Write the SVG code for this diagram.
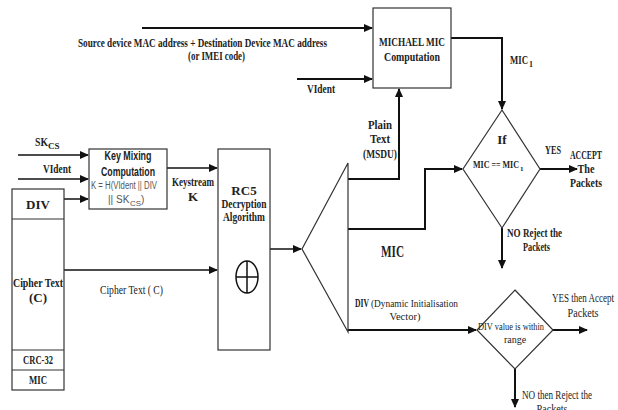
<svg xmlns="http://www.w3.org/2000/svg" width="618" height="410" viewBox="0 0 618 410">
<style>
.t{font-family:"Liberation Serif","DejaVu Serif",serif;font-weight:bold;font-size:13px;fill:#222}
.n{font-weight:normal}
.sub{font-size:8px}
.s{font-family:"Liberation Sans","DejaVu Sans",sans-serif;font-size:10px;fill:#555}
.sb{font-family:"Liberation Sans","DejaVu Sans",sans-serif;font-weight:bold;font-size:12px;fill:#222}
.box{fill:#fff;stroke:#333;stroke-width:1.2}
.c{fill:none;stroke:#111;stroke-width:2}
.cl{fill:none;stroke:#111;stroke-width:1.5}
</style>
<defs>
<marker id="ah" markerWidth="9" markerHeight="8" refX="8" refY="4" orient="auto" markerUnits="userSpaceOnUse"><path d="M0,0 L9,4 L0,8 z" fill="#111"/></marker>
</defs>
<rect width="618" height="410" fill="#fff"/>

<g id="connectors">
<path class="c" d="M142,28 H372" marker-end="url(#ah)"/>
<path class="c" d="M297,79 H372" marker-end="url(#ah)"/>
<path class="c" d="M451,38 H502 V109" marker-end="url(#ah)"/>
<path class="c" d="M348,179 H399 V89" marker-end="url(#ah)"/>
<path class="c" d="M348,229 H425 V169 H462" marker-end="url(#ah)"/>
<path class="c" d="M540,169 H577" marker-end="url(#ah)"/>
<path class="c" d="M502,228 V268" marker-end="url(#ah)"/>
<path class="c" d="M348,330 H476" marker-end="url(#ah)"/>
<path class="c" d="M553,330 H587" marker-end="url(#ah)"/>
<path class="c" d="M515,369 V407" marker-end="url(#ah)"/>
<path class="cl" d="M18,155 H88" marker-end="url(#ah)"/>
<path class="cl" d="M18,179 H88" marker-end="url(#ah)"/>
<path class="cl" d="M64,199 H88" marker-end="url(#ah)"/>
<path class="cl" d="M167,168 H217" marker-end="url(#ah)"/>
<path class="cl" d="M64,270 H217" marker-end="url(#ah)"/>
<path class="cl" d="M270,249 H301" marker-end="url(#ah)"/>
</g>

<g id="labels">
<text class="t" x="78" y="47" textLength="249" lengthAdjust="spacingAndGlyphs">Source device MAC address + Destination Device MAC address</text>
<text class="t" x="188" y="60" textLength="57" lengthAdjust="spacingAndGlyphs">(or IMEI code)</text>
<text class="t" x="307" y="93" textLength="28" lengthAdjust="spacingAndGlyphs">VIdent</text>
<text class="t" x="510" y="64" textLength="18" lengthAdjust="spacingAndGlyphs">MIC</text><text class="t sub" x="529" y="67">1</text>
<text class="t" x="380" y="129" text-anchor="middle" textLength="24" lengthAdjust="spacingAndGlyphs">Plain</text>
<text class="t" x="380" y="143" text-anchor="middle" textLength="20" lengthAdjust="spacingAndGlyphs">Text</text>
<text class="t" x="380" y="158" text-anchor="middle" textLength="34" lengthAdjust="spacingAndGlyphs">(MSDU)</text>
<text class="t" x="545" y="154" textLength="16" lengthAdjust="spacingAndGlyphs">YES</text>
<text class="t" x="586" y="159" text-anchor="middle" textLength="32" lengthAdjust="spacingAndGlyphs">ACCEPT</text>
<text class="t" x="586" y="173" text-anchor="middle" textLength="17" lengthAdjust="spacingAndGlyphs">The</text>
<text class="t" x="586" y="187" text-anchor="middle" textLength="32" lengthAdjust="spacingAndGlyphs">Packets</text>
<text class="t" x="507" y="237" textLength="55" lengthAdjust="spacingAndGlyphs">NO Reject the</text>
<text class="t" x="523" y="251" textLength="27" lengthAdjust="spacingAndGlyphs">Packets</text>
<text class="t" x="381" y="257" style="font-size:16px" textLength="23" lengthAdjust="spacingAndGlyphs">MIC</text>
<text class="t" x="355" y="307" textLength="14" lengthAdjust="spacingAndGlyphs">DIV</text>
<text class="t n" x="371" y="307" style="font-size:11px" textLength="87" lengthAdjust="spacingAndGlyphs">(Dynamic Initialisation</text>
<text class="t n" x="405" y="320" style="font-size:11px" text-anchor="middle" textLength="31" lengthAdjust="spacingAndGlyphs">Vector)</text>
<text class="t n" x="552" y="302" textLength="62" lengthAdjust="spacingAndGlyphs">YES then Accept</text>
<text class="t n" x="583" y="317" text-anchor="middle" textLength="31" lengthAdjust="spacingAndGlyphs">Packets</text>
<text class="t n" x="522" y="399" textLength="70" lengthAdjust="spacingAndGlyphs">NO then Reject the</text>
<text class="t n" x="552" y="413" text-anchor="middle" textLength="31" lengthAdjust="spacingAndGlyphs">Packets</text>
<text class="t" x="35" y="146" textLength="13" lengthAdjust="spacingAndGlyphs">SK</text><text class="t" x="48" y="149" style="font-size:9px">CS</text>
<text class="t" x="43" y="173" textLength="28" lengthAdjust="spacingAndGlyphs">VIdent</text>
<text class="t" x="172" y="186" textLength="42" lengthAdjust="spacingAndGlyphs">Keystream</text>
<text class="t" x="193" y="201" text-anchor="middle">K</text>
<text class="t n" x="100" y="294" textLength="63" lengthAdjust="spacingAndGlyphs">Cipher Text ( C)</text>
</g>

<g id="michael">
<rect class="box" x="373" y="8" width="78" height="80"/>
<text class="t" x="412" y="46" text-anchor="middle" textLength="66" lengthAdjust="spacingAndGlyphs">MICHAEL MIC</text>
<text class="t" x="412" y="61" text-anchor="middle" textLength="56" lengthAdjust="spacingAndGlyphs">Computation</text>
</g>

<g id="if-mic">
<polygon class="box" points="502,110 540,169 502,228 463,169"/>
<text class="t" x="502" y="144" text-anchor="middle">If</text>
<text class="t" x="473" y="168" style="font-size:11px" textLength="46" lengthAdjust="spacingAndGlyphs">MIC == MIC</text><text class="t" x="520" y="171" style="font-size:7px">1</text>
</g>

<g id="div-check">
<polygon class="box" points="515,290 553,330 515,369 477,330"/>
<text class="t n" x="511" y="330" style="font-size:10px" text-anchor="middle" textLength="66" lengthAdjust="spacingAndGlyphs">DIV value is within</text>
<text class="t n" x="515" y="343" style="font-size:10px" text-anchor="middle">range</text>
</g>

<g id="splitter">
<polygon points="348,163 302,249 348,332" fill="#fff" stroke="#333" stroke-width="1.2"/>
</g>

<g id="keymix">
<rect class="box" x="89" y="149" width="78" height="60"/>
<text class="sb" x="128" y="160" text-anchor="middle" textLength="47" lengthAdjust="spacingAndGlyphs">Key Mixing</text>
<text class="sb" x="128" y="176" text-anchor="middle" textLength="54" lengthAdjust="spacingAndGlyphs">Computation</text>
<text class="s" x="91" y="189" textLength="66" lengthAdjust="spacingAndGlyphs">K = H(VIdent || DIV</text>
<text class="s" x="108" y="203">|| SK</text><text class="s" x="130" y="206" style="font-size:8px">CS</text><text class="s" x="141" y="203">)</text>
</g>

<g id="rc5">
<rect class="box" x="218" y="149" width="52" height="201"/>
<text class="t" x="244" y="195" text-anchor="middle">RC5</text>
<text class="t" x="244" y="208" text-anchor="middle" textLength="45" lengthAdjust="spacingAndGlyphs">Decryption</text>
<text class="t" x="244" y="221" text-anchor="middle" textLength="42" lengthAdjust="spacingAndGlyphs">Algorithm</text>
<ellipse cx="247" cy="277" rx="11" ry="16" fill="none" stroke="#111" stroke-width="1.5"/>
<path d="M236,277 H258 M247,261 V293" stroke="#111" stroke-width="1.5"/>
</g>

<g id="packet">
<rect class="box" x="12" y="189" width="52" height="201"/>
<path d="M12,219 H64 M12,350 H64 M12,370 H64" stroke="#333" stroke-width="1.2"/>
<text class="t" x="38" y="209" text-anchor="middle">DIV</text>
<text class="t" x="38" y="287" text-anchor="middle" textLength="50" lengthAdjust="spacingAndGlyphs">Cipher Text</text>
<text class="t" x="38" y="302" text-anchor="middle">(C)</text>
<text class="t" x="38" y="364" text-anchor="middle" textLength="30" lengthAdjust="spacingAndGlyphs">CRC-32</text>
<text class="t" x="38" y="384" text-anchor="middle" textLength="18" lengthAdjust="spacingAndGlyphs">MIC</text>
</g>
</svg>
